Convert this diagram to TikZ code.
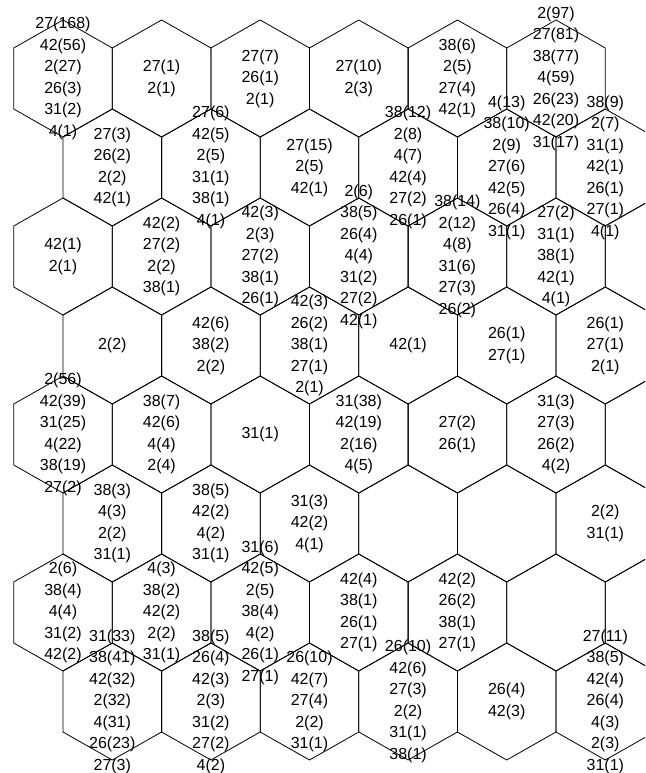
\documentclass[tikz,border=0pt]{standalone}
\usepackage{fontspec}
\setmainfont{Liberation Sans}
\begin{document}
\begin{tikzpicture}[x=1pt,y=-1pt,
  hexline/.style={draw=black,line width=0.8pt,line join=miter},
  lbl/.style={align=center,font=\fontsize{16}{21.5}\selectfont,inner sep=0pt}]
\useasboundingbox (0,0) rectangle (645,773);
\clip (0,0) rectangle (645,773);
% centres of the cells
\foreach \r in {0,...,7}{
  \foreach \k in {0,...,6}{
    \pgfmathsetmacro\cx{63+98.6*\k+49.3*mod(\r,2)}
    \pgfmathsetmacro\cy{78.5+89*\r}
    \coordinate (c-\r-\k) at (\cx,\cy);
  }
}
% hexagons
\foreach \r/\last in {0/5,1/5,2/6,3/5,4/6,5/5,6/6,7/5}{
  \foreach \k in {0,...,\last}{
    \draw[hexline,shift={(c-\r-\k)}] (-49.3,-30.5) -- (0,-58.5) -- (49.3,-30.5)
      -- (49.3,30.5) -- (0,58.5) -- (-49.3,30.5) -- cycle;
  }
}
% row 0
\node[lbl] (l-0-0) at (c-0-0) {27(168)\\42(56)\\2(27)\\26(3)\\31(2)\\4(1)};
\node[lbl] (l-0-1) at (c-0-1) {27(1)\\2(1)};
\node[lbl] (l-0-2) at (c-0-2) {27(7)\\26(1)\\2(1)};
\node[lbl] (l-0-3) at (c-0-3) {27(10)\\2(3)};
\node[lbl] (l-0-4) at (c-0-4) {38(6)\\2(5)\\27(4)\\42(1)};
\node[lbl] (l-0-5) at (c-0-5) {2(97)\\27(81)\\38(77)\\4(59)\\26(23)\\42(20)\\31(17)};
% row 1
\node[lbl] (l-1-0) at (c-1-0) {27(3)\\26(2)\\2(2)\\42(1)};
\node[lbl] (l-1-1) at (c-1-1) {27(6)\\42(5)\\2(5)\\31(1)\\38(1)\\4(1)};
\node[lbl] (l-1-2) at (c-1-2) {27(15)\\2(5)\\42(1)};
\node[lbl] (l-1-3) at (c-1-3) {38(12)\\2(8)\\4(7)\\42(4)\\27(2)\\26(1)};
\node[lbl] (l-1-4) at (c-1-4) {4(13)\\38(10)\\2(9)\\27(6)\\42(5)\\26(4)\\31(1)};
\node[lbl] (l-1-5) at (c-1-5) {38(9)\\2(7)\\31(1)\\42(1)\\26(1)\\27(1)\\4(1)};
% row 2
\node[lbl] (l-2-0) at (c-2-0) {42(1)\\2(1)};
\node[lbl] (l-2-1) at (c-2-1) {42(2)\\27(2)\\2(2)\\38(1)};
\node[lbl] (l-2-2) at (c-2-2) {42(3)\\2(3)\\27(2)\\38(1)\\26(1)};
\node[lbl] (l-2-3) at (c-2-3) {2(6)\\38(5)\\26(4)\\4(4)\\31(2)\\27(2)\\42(1)};
\node[lbl] (l-2-4) at (c-2-4) {38(14)\\2(12)\\4(8)\\31(6)\\27(3)\\26(2)};
\node[lbl] (l-2-5) at (c-2-5) {27(2)\\31(1)\\38(1)\\42(1)\\4(1)};
% row 3
\node[lbl] (l-3-0) at (c-3-0) {2(2)};
\node[lbl] (l-3-1) at (c-3-1) {42(6)\\38(2)\\2(2)};
\node[lbl] (l-3-2) at (c-3-2) {42(3)\\26(2)\\38(1)\\27(1)\\2(1)};
\node[lbl] (l-3-3) at (c-3-3) {42(1)};
\node[lbl] (l-3-4) at (c-3-4) {26(1)\\27(1)};
\node[lbl] (l-3-5) at (c-3-5) {26(1)\\27(1)\\2(1)};
% row 4
\node[lbl] (l-4-0) at (c-4-0) {2(56)\\42(39)\\31(25)\\4(22)\\38(19)\\27(2)};
\node[lbl] (l-4-1) at (c-4-1) {38(7)\\42(6)\\4(4)\\2(4)};
\node[lbl] (l-4-2) at (c-4-2) {31(1)};
\node[lbl] (l-4-3) at (c-4-3) {31(38)\\42(19)\\2(16)\\4(5)};
\node[lbl] (l-4-4) at (c-4-4) {27(2)\\26(1)};
\node[lbl] (l-4-5) at (c-4-5) {31(3)\\27(3)\\26(2)\\4(2)};
% row 5
\node[lbl] (l-5-0) at (c-5-0) {38(3)\\4(3)\\2(2)\\31(1)};
\node[lbl] (l-5-1) at (c-5-1) {38(5)\\42(2)\\4(2)\\31(1)};
\node[lbl] (l-5-2) at (c-5-2) {31(3)\\42(2)\\4(1)};
\node[lbl] (l-5-5) at (c-5-5) {2(2)\\31(1)};
% row 6
\node[lbl] (l-6-0) at (c-6-0) {2(6)\\38(4)\\4(4)\\31(2)\\42(2)};
\node[lbl] (l-6-1) at (c-6-1) {4(3)\\38(2)\\42(2)\\2(2)\\31(1)};
\node[lbl] (l-6-2) at (c-6-2) {31(6)\\42(5)\\2(5)\\38(4)\\4(2)\\26(1)\\27(1)};
\node[lbl] (l-6-3) at (c-6-3) {42(4)\\38(1)\\26(1)\\27(1)};
\node[lbl] (l-6-4) at (c-6-4) {42(2)\\26(2)\\38(1)\\27(1)};
% row 7
\node[lbl] (l-7-0) at (c-7-0) {31(33)\\38(41)\\42(32)\\2(32)\\4(31)\\26(23)\\27(3)};
\node[lbl] (l-7-1) at (c-7-1) {38(5)\\26(4)\\42(3)\\2(3)\\31(2)\\27(2)\\4(2)};
\node[lbl] (l-7-2) at (c-7-2) {26(10)\\42(7)\\27(4)\\2(2)\\31(1)};
\node[lbl] (l-7-3) at (c-7-3) {26(10)\\42(6)\\27(3)\\2(2)\\31(1)\\38(1)};
\node[lbl] (l-7-4) at (c-7-4) {26(4)\\42(3)};
\node[lbl] (l-7-5) at (c-7-5) {27(11)\\38(5)\\42(4)\\26(4)\\4(3)\\2(3)\\31(1)};
\end{tikzpicture}
\end{document}
